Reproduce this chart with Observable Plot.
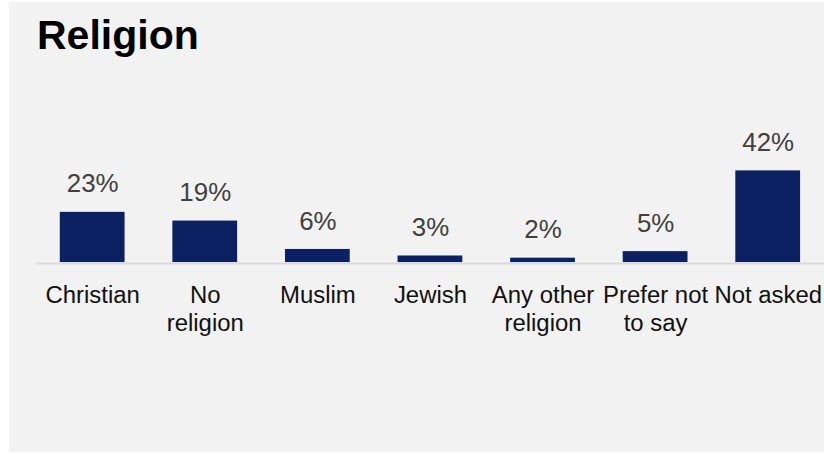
<!DOCTYPE html>
<html>
<head>
<meta charset="utf-8">
<script src="https://cdn.jsdelivr.net/npm/d3@7"></script>
<script src="https://cdn.jsdelivr.net/npm/@observablehq/plot@0.6"></script>
<style>
  html, body { margin: 0; padding: 0; background: #ffffff; width: 824px; height: 454px; overflow: hidden; }
  #panel { position: absolute; left: 9px; top: 2px; width: 815px; height: 450px; background: #f2f2f2; overflow: hidden; }
  #title { position: absolute; left: 28px; top: 8px; margin: 0; font: bold 41px "Liberation Sans", Arial, sans-serif; color: #000; line-height: 50px; }
  #chart { position: absolute; left: -9px; top: -2px; }
</style>
</head>
<body>
<div id="panel">
  <h1 id="title">Religion</h1>
  <div id="chart"></div>
</div>
<script>
const categories = ["Christian", "No\nreligion", "Muslim", "Jewish", "Any other\nreligion", "Prefer not\nto say", "Not asked"];
const values = [23, 19, 6, 3, 2, 5, 42];
const valueLabels = ["23%", "19%", "6%", "3%", "2%", "5%", "42%"];

const data = categories.map((c, i) => ({category: c, value: values[i], label: valueLabels[i]}));

const chart = Plot.plot({
  width: 827,
  height: 454,
  marginLeft: 36,
  marginRight: 0,
  marginTop: 171,
  marginBottom: 191,
  style: {background: "transparent", fontFamily: "'Liberation Sans', Arial, sans-serif", overflow: "visible"},
  x: {domain: categories, padding: 0, axis: null},
  y: {domain: [0, 42], axis: null},
  marks: [
    Plot.ruleY([0], {stroke: "#d9d9d9", strokeWidth: 2, dy: 1}),
    Plot.barY(data, {x: "category", y: "value", fill: "#0c2161", insetLeft: 24, insetRight: 24}),
    Plot.text(data, {x: "category", y: "value", text: "label", lineAnchor: "bottom", dy: -20, fontSize: 26, fill: "#404040"}),
    Plot.text(data, {x: "category", y: () => 0, text: "category", lineAnchor: "top", dy: 21, fontSize: 24, lineHeight: 1.17, fill: "#111111"})
  ]
});
document.getElementById("chart").appendChild(chart);
</script>
</body>
</html>
